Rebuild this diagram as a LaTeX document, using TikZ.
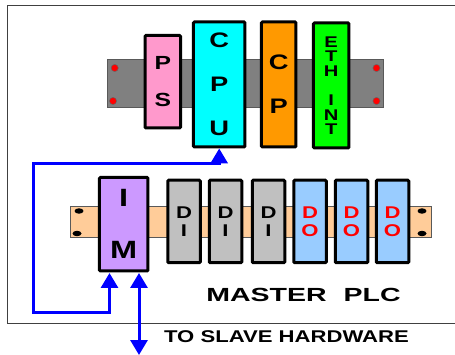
\documentclass[tikz,border=0pt]{standalone}
\usepackage{fontspec}
\usetikzlibrary{arrows.meta}
\newfontfamily\plcfont[FakeStretch=1.3]{Liberation Sans}
\newfontfamily\capfont[FakeStretch=1.5]{Liberation Sans}
\definecolor{railgray}{RGB}{128,128,128}
\definecolor{railtan}{RGB}{255,204,153}
\definecolor{pspink}{RGB}{255,153,204}
\definecolor{cpucyan}{RGB}{0,255,255}
\definecolor{cporange}{RGB}{255,153,0}
\definecolor{ethgreen}{RGB}{0,255,0}
\definecolor{impurple}{RGB}{204,153,255}
\definecolor{diogray}{RGB}{192,192,192}
\definecolor{doblue}{RGB}{153,204,255}
\tikzset{
	module/.style={draw=black,line width=3pt,rounded corners=1pt,inner sep=0pt,align=center},
	rail/.style={draw=black!65,line width=1pt,inner sep=0pt},
	bigfont/.style={font=\plcfont\bfseries\fontsize{21}{44}\selectfont},
	iofont/.style={font=\plcfont\bfseries\fontsize{17}{18}\selectfont},
	link/.style={draw=blue,line width=3pt},
	caption/.style={inner sep=0pt},
}
\begin{document}
\begin{tikzpicture}[x=1pt,y=-1pt,>={Triangle[length=15pt,width=17pt]}]
	\useasboundingbox (0,0) rectangle (455,355);

	\draw[line width=1pt,black!75]  (455,6) -- (7.5,6) -- (7.5,323) -- (455,323);

	\node[rail,fill=railgray,minimum width=276pt,minimum height=48pt] (toprail) at (245.5,84) {};
	\node[rail,fill=railtan,minimum width=361pt,minimum height=31pt] (botrail) at (251,222.5) {};

	\fill[red,draw=black!60,line width=.5pt]  (114.7,68) circle (3.6pt);
	\fill[red,draw=black!60,line width=.5pt]  (113,101) circle (3.6pt);
	\fill[red,draw=black!60,line width=.5pt]  (376.5,68) circle (3.6pt);
	\fill[red,draw=black!60,line width=.5pt]  (376.5,101) circle (3.6pt);

	\fill  (79,211) ellipse (4.5pt and 2.7pt);
	\fill  (77,233.5) ellipse (4.5pt and 2.7pt);
	\fill  (422,211) ellipse (4.5pt and 2.7pt);
	\fill  (422,233.5) ellipse (4.5pt and 2.7pt);

	\node[module,fill=pspink,minimum width=35.5pt,minimum height=92.5pt,font=\plcfont\bfseries\fontsize{19}{37}\selectfont] (ps) at (162.75,81.75) {P\\S};
	\node[module,bigfont,fill=cpucyan,minimum width=51.5pt,minimum height=125pt] (cpu) at (219.2,84.5) {C\\P\\U};
	\node[module,bigfont,fill=cporange,minimum width=34.5pt,minimum height=125pt] (cp) at (278.7,84.5) {C\\P};
	\node[module,fill=ethgreen,minimum width=35.5pt,minimum height=125pt,font=\plcfont\bfseries\fontsize{15.5}{14.5}\selectfont] (ethint) at (331.2,85.5) {E\\T\\H\\[15pt]I\\N\\T};

	\node[module,fill=impurple,minimum width=48.5pt,minimum height=93.5pt,font=\plcfont\bfseries\fontsize{25}{52}\selectfont] (im) at (123.7,224.2) {I\\M};

	\node[module,iofont,fill=diogray,minimum width=32.5pt,minimum height=82.5pt] (dia) at (184,221.5) {D\\I};
	\node[module,iofont,fill=diogray,minimum width=32.5pt,minimum height=82.5pt] (dib) at (225.5,221.5) {D\\I};
	\node[module,iofont,fill=diogray,minimum width=32.5pt,minimum height=82.5pt] (dic) at (268.5,221.5) {D\\I};
	\node[module,iofont,fill=doblue,text=red,minimum width=32.5pt,minimum height=82.5pt] (doa) at (310,221.5) {D\\O};
	\node[module,iofont,fill=doblue,text=red,minimum width=32.5pt,minimum height=82.5pt] (dob) at (351.5,221.5) {D\\O};
	\node[module,iofont,fill=doblue,text=red,minimum width=32.5pt,minimum height=82.5pt] (doc) at (392.5,221.5) {D\\O};

	\node[caption,font=\capfont\bfseries\fontsize{19}{20}\selectfont] (master) at (303.5,295) {MASTER\hspace{17pt}PLC};
	\node[caption,font=\plcfont\bfseries\fontsize{17}{20}\selectfont] (slave) at (286.5,337) {TO SLAVE HARDWARE};

	\coordinate (cpuin) at (219.2,148.5);
	\coordinate (imin) at (109.5,273);
	\coordinate (imout) at (139,273);
	\coordinate (slaveout) at (139,355);

	\draw[link,<->]  (cpuin) -- (219.2,164) -- (33.5,164) -- (33.5,312) -- (109.5,312) -- (imin);
	\draw[link,<->]  (imout) -- (slaveout);
\end{tikzpicture}
\end{document}
